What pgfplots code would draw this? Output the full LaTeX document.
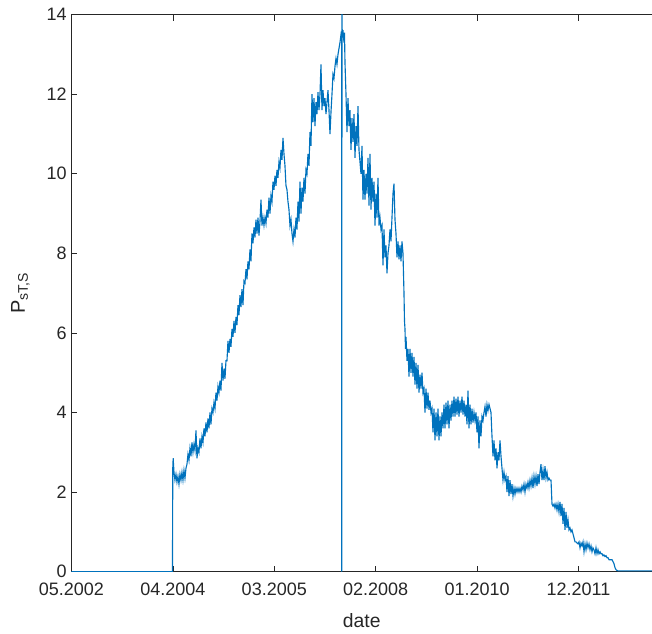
\documentclass[border=0pt]{standalone}
\usepackage{fontspec}
\setmainfont{Liberation Sans}
\usepackage{pgfplots}
\pgfplotsset{compat=1.18}
\definecolor{mlblue}{RGB}{0,114,189}
\definecolor{mlgray}{RGB}{38,38,38}
\begin{document}
\begin{tikzpicture}
\begin{axis}[
 scale only axis, width=435.4pt, height=417.75pt,
 xmin=71.5, xmax=652, ymin=0, ymax=14,
 axis x line=box, axis y line=left,
 axis line style={-, draw=mlgray, line width=0.5pt},
 tick align=inside, major tick length=4.5pt,
 xtick={71.5,172.9,274.3,375.7,477.1,578.5},
 xticklabels={05.2002,04.2004,03.2005,02.2008,01.2010,12.2011},
 ytick={0,2,4,6,8,10,12,14},
 tick style={draw=mlgray, line width=0.5pt},
 ticklabel style={font=\fontsize{13.5}{15}\selectfont, text=mlgray},
 xticklabel style={yshift=-5pt},
 /pgf/number format/assume math mode=true,
 xlabel={date}, ylabel={P\textsubscript{sT,S}},
 every axis x label/.style={at={(axis description cs:0.5,-0.088)}, anchor=center, font=\fontsize{14.5}{17}\selectfont, text=mlgray},
 every axis y label/.style={at={(axis description cs:-0.088,0.5)}, anchor=center, rotate=90, font=\fontsize{15}{17}\selectfont, text=mlgray},
 clip=true,
]
\addplot[mlblue, line width=0.85pt] coordinates {
(71.5,0) (172.5,0) (172.8,2.6) (173.2,2.85) (174,2.5) (175,2.3) (176,2.45) (177,2.25) (178,2.4) (179,2.2) (180,2.45) (181,2.3) (182,2.5) (183,2.3) (184,2.55) (185,2.35) (186,2.6) (187,2.7) (188,2.95) (189,2.8) (190,3.1) (191,2.9) (192,3.25) (193,3.0) (194,3.2) (195,3.05) (196,3.55) (197,2.85) (198,3.1) (199,3.0) (200,3.35) (201,3.1) (202,3.4) (203,3.25) (204,3.6) (205,3.4) (206,3.75) (207,3.5) (208,3.85) (209,3.6) (210,4.0) (211,3.7) (212,4.1) (213,4.0) (214,4.25) (215,4.1) (216,4.5) (217,4.3) (218,4.65) (219,4.5) (220,4.8) (221,4.55) (222,5.25) (223,4.8) (224,5.1) (225,4.85) (226,5.3) (227,5.3) (228,5.8) (229,5.5) (230,5.85) (231,5.65) (232,6.1) (233,5.9) (234,6.3) (235,6.0) (236,6.4) (237,6.2) (238,6.7) (239,6.45) (240,6.95) (241,6.65) (242,7.1) (243,6.7) (244,7.3) (245,7.25) (246,7.6) (247,7.35) (248,7.8) (249,7.6) (250,8.1) (251,7.8) (252,8.5) (253,8.25) (254,8.65) (255,8.4) (256,8.85) (257,8.5) (258,8.9) (259,8.45) (260,8.8) (261,9.35) (262,8.7) (263,8.9) (264,8.7) (265,8.9) (266,8.75) (267,9.1) (268,8.9) (269,9.4) (270,9.0) (271,9.45) (272,9.3) (273,9.8) (274,9.6) (275,9.95) (276,9.7) (277,10.1) (278,9.9) (279,10.3) (280,10.15) (281,10.6) (282,10.35) (283,10.9) (284,10.5) (285,10.2) (286,9.7) (287,9.6) (288,9.3) (289,9.1) (290,8.7) (291,8.85) (292,8.5) (293,8.3) (294,8.6) (295,8.4) (296,8.9) (297,8.6) (298,9.3) (299,8.8) (300,9.8) (301,9.0) (302,9.65) (303,9.3) (304,9.9) (305,9.5) (306,10.1) (307,10.0) (308,10.5) (309,10.2) (310,11.05) (311,10.7) (312,12.0) (313,11.3) (314,11.9) (315,11.2) (316,11.8) (317,11.5) (318,12.05) (319,11.6) (320,12.0) (321,12.75) (322,11.6) (323,12.1) (324,11.7) (325,11.9) (326,11.5) (327,11.8) (328,12.1) (329,11.6) (330,11.0) (331,11.55) (332,12.0) (333,12.5) (334,12.4) (335,12.7) (336,12.9) (337,12.75) (338,13.0) (339,13.15) (340,13.3) (341,13.5) (341.7,13.4) (341.8,0) (342,15) (342.2,13.6) (343,13.6) (344,13.3) (344.5,13.55) (345,12.8) (346,12.0) (347,11.05) (348,11.9) (349,11.2) (350,11.6) (351,10.6) (352,11.4) (353,10.8) (354,11.5) (355,10.4) (356,11.2) (357,10.7) (358,11.7) (359,10.6) (360,10.3) (361,10.0) (362,10.7) (363,9.35) (364,10.1) (365,9.35) (366,10.0) (367,9.5) (368,10.4) (369,9.2) (370,10.5) (371,9.1) (372,9.9) (373,9.3) (374,9.8) (375,8.7) (376,9.5) (377,8.9) (378,9.9) (379,8.7) (380,8.9) (381,8.6) (382,8.7) (383,7.7) (384,8.6) (385,7.9) (386,8.2) (387,7.5) (388,8.0) (389,8.2) (390,8.6) (391,8.3) (392,8.9) (393,9.5) (394,9.75) (395,8.85) (396,8.5) (397,7.9) (398,8.3) (399,7.85) (400,8.2) (401,7.8) (402,8.3) (403,8.0) (404,7.0) (404.5,6.3) (405,6.1) (405.5,5.6) (406,5.9) (407,5.3) (408,5.6) (409,4.9) (410,5.6) (411,5.0) (412,5.5) (413,4.9) (414,5.4) (415,4.7) (416,5.25) (417,4.6) (418,5.2) (419,4.5) (420,4.95) (421,4.6) (422,5.0) (423,4.5) (424,4.6) (425,4.0) (426,4.6) (427,4.1) (428,4.5) (429,4.07) (430,4.3) (431,4.0) (432,4.1) (433,3.5) (434,4.1) (435,3.3) (436,4.0) (437,3.4) (438,4.1) (439,3.3) (440,3.9) (441,3.4) (442,4.0) (443,3.6) (444,4.2) (445,3.6) (446,4.25) (447,3.7) (448,4.3) (449,3.6) (450,4.2) (451,3.8) (452,4.3) (453,3.9) (454,4.4) (455,3.9) (456,4.35) (457,3.95) (458,4.4) (459,3.9) (460,4.3) (461,4.0) (462,4.4) (463,3.95) (464,4.3) (465,3.9) (466,4.2) (467,3.7) (468,4.55) (469,3.6) (470,4.2) (471,3.7) (472,4.1) (473,3.75) (474,4.0) (475,3.8) (476,4.0) (477,3.5) (478,3.9) (479,3.1) (480,3.8) (481,3.4) (482,3.9) (483,3.8) (484,4.0) (485,4.15) (486,3.9) (487,4.2) (488,4.05) (489,4.2) (490,4.1) (491,4.0) (492,3.4) (493,2.9) (494,3.3) (495,2.8) (496,3.1) (497,2.6) (498,3.0) (499,2.8) (500,3.3) (501,2.9) (502,2.6) (503,2.3) (504,2.5) (505,2.3) (506,2.4) (507,2.0) (508,2.4) (509,1.9) (510,2.3) (511,1.95) (512,2.2) (513,1.9) (514,2.1) (515,1.95) (516,2.1) (517,2.0) (518,2.1) (519,2.0) (520,2.1) (521,2.0) (522,2.15) (523,2.05) (524,2.2) (525,2.0) (526,2.2) (527,2.1) (528,2.25) (529,2.1) (530,2.3) (531,2.15) (532,2.35) (533,2.1) (534,2.4) (535,2.2) (536,2.4) (537,2.15) (538,2.45) (539,2.2) (540,2.5) (541,2.7) (542,2.3) (543,2.55) (544,2.3) (545,2.65) (546,2.35) (547,2.5) (548,2.3) (549,2.35) (550,2.3) (551,2.3) (552,1.7) (553,1.65) (554,1.7) (555,1.6) (556,1.7) (557,1.55) (558,1.7) (559,1.5) (560,1.75) (561,1.4) (562,1.7) (563,1.2) (564,1.6) (565,1.05) (566,1.5) (567,1.1) (568,1.3) (569,1.05) (570,1.1) (571,1.0) (572,1.05) (573,0.95) (574,0.85) (575,0.75) (576,0.75) (577,0.72) (578,0.7) (579,0.75) (580,0.6) (581,0.72) (582,0.65) (583,0.75) (584,0.5) (585,0.7) (586,0.55) (587,0.72) (588,0.6) (589,0.7) (590,0.55) (591,0.65) (592,0.5) (593,0.6) (594,0.55) (595,0.45) (596,0.6) (597,0.45) (598,0.55) (599,0.45) (600,0.5) (601,0.45) (602,0.45) (603,0.4) (604,0.42) (605,0.38) (606,0.4) (607,0.35) (608,0.35) (609,0.3) (610,0.3) (611,0.3) (612,0.3) (613,0.25) (614,0.2) (615,0.1) (616,0.05) (617,0.03) (618,0.02) (652,0.02)
};
\coordinate (sw) at (rel axis cs:0,0);
\coordinate (ne) at (rel axis cs:1,1);
\end{axis}
\pgfresetboundingbox
\path ([shift={(-53.6pt,-46.7pt)}]sw) rectangle ([shift={(0pt,11pt)}]ne);
\end{tikzpicture}
\end{document}
